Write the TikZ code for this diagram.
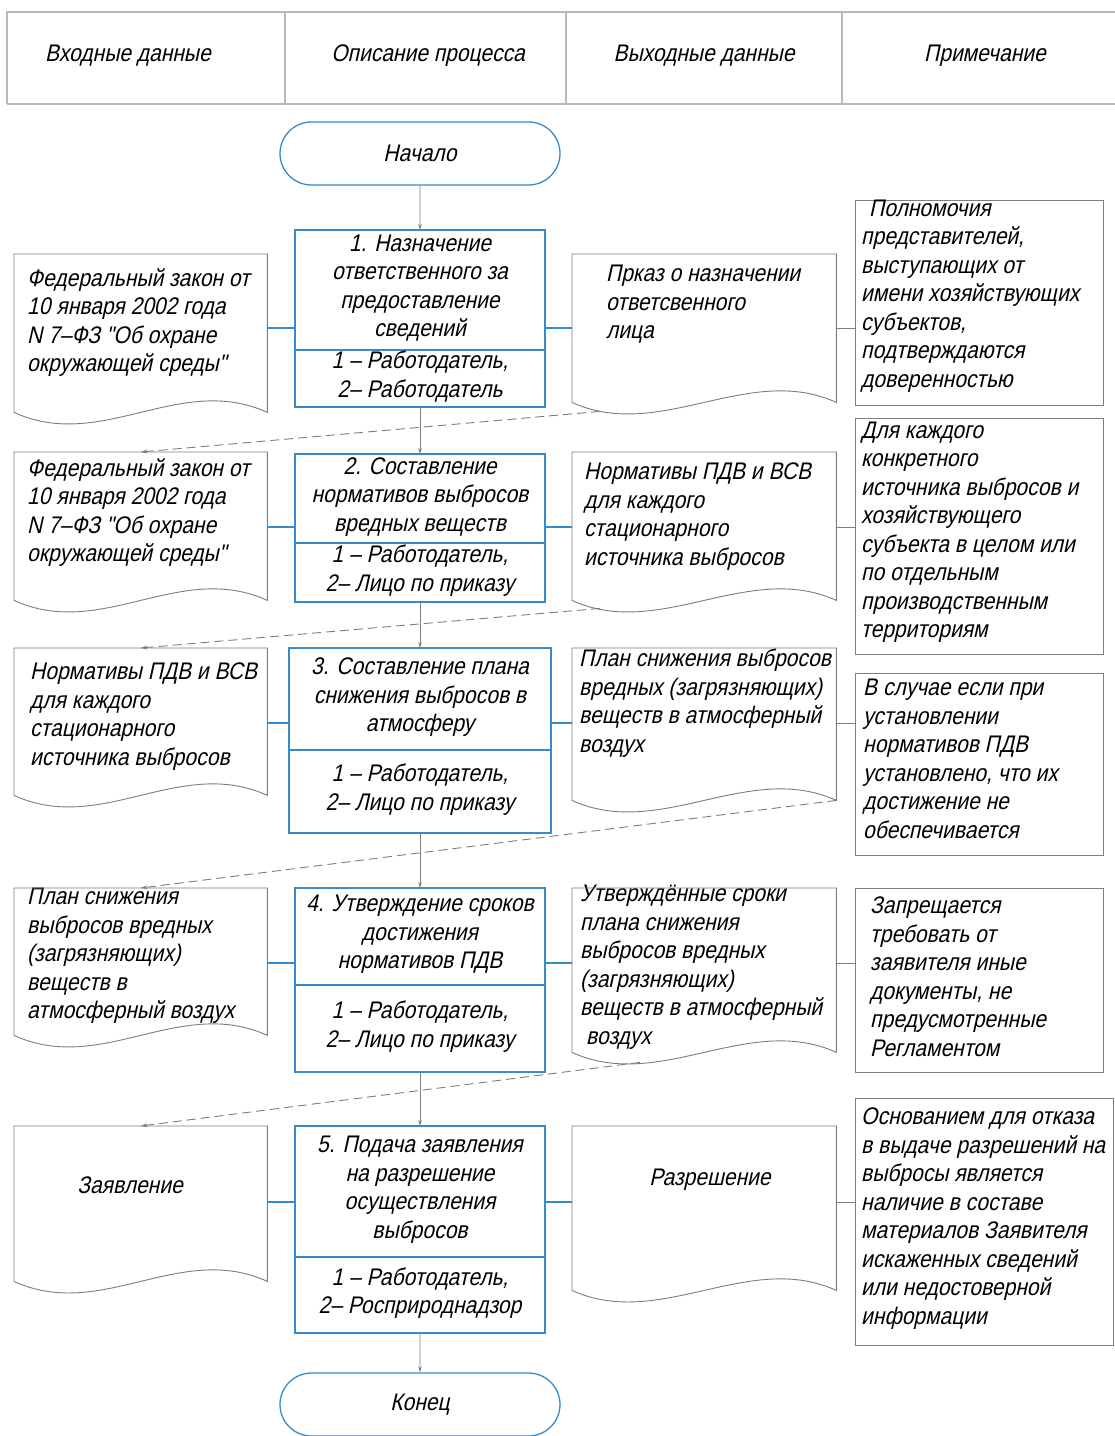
\documentclass[tikz,border=0pt]{standalone}
\usepackage{fontspec}
\setmainfont{Liberation Sans}
\newfontfamily\gost{Liberation Sans}[FakeSlant=0.22,FakeStretch=0.875]
\usetikzlibrary{arrows.meta,shapes.misc,positioning}

\definecolor{procblue}{RGB}{52,140,205}
\definecolor{linegray}{RGB}{125,125,125}

\tikzset{
  every node/.style={font=\gost\fontsize{24}{28.5}\selectfont,inner sep=0pt},
  hdrline/.style={draw=gray!55,line width=1.6pt},
  hdrtext/.style={execute at begin node=\strut},
  proc/.style={rectangle,draw=procblue,line width=1.5pt,outer sep=0pt,
    minimum width=250pt,align=center,
    execute at begin node=\strut,execute at end node=\strut},
  term/.style={rounded rectangle,draw=procblue,line width=1.3pt,
    minimum width=280pt,minimum height=63pt},
  docshape/.style={rectangle,anchor=north west,minimum width=253pt},
  docline/.style={draw=linegray,line width=0.9pt},
  doctext/.style={anchor=north west,align=left,execute at begin node=\strut},
  notebox/.style={rectangle,draw=linegray,line width=0.9pt,anchor=north west,
    minimum width=248pt},
  notetext/.style={anchor=west,align=left,
    execute at begin node=\strut,execute at end node=\strut},
  blueline/.style={draw=procblue,line width=1.5pt},
  grayline/.style={draw=linegray,line width=0.9pt},
  flow/.style={draw=linegray,line width=0.9pt,-{Stealth[length=6pt,width=3.5pt]}},
  dashflow/.style={draw=linegray,line width=0.9pt,dash pattern=on 9pt off 5pt,
    -{Stealth[length=7pt,width=4pt]}}
}

\begin{document}
\begin{tikzpicture}[x=1pt,y=-1pt]
    \useasboundingbox (0,0) rectangle (1115,1436);
    \fill[white] (0,0) rectangle (1115,1436);

    % Шапка таблицы
    \draw[hdrline] (7,104) -- (7,12) -- (1115,12);
    \draw[hdrline] (7,104) -- (1115,104);
    \foreach \x in {285,566,842}
    \draw[hdrline] (\x,12) -- (\x,104);
    \foreach \x/\t [count=\i] in {128/Входные данные,428/Описание процесса,704/Выходные данные,985/Примечание}
    \node[hdrtext] (h\i) at (\x,56) {\t};

    % Начало и конец
    \node[term] (st) at (420,153.5) {Начало};
    \node[term] (en) at (420,1404.5) {Конец};

    % Этапы процесса
    \node[proc,minimum height=120pt] (p1) at (420,290) {1. Назначение\\ответственного за\\предоставление\\сведений};
    \node[proc,minimum height=57pt,below=0pt of p1] (p1b) {1 – Работодатель,\\2– Работодатель};
    \node[proc,minimum height=89pt] (p2) at (420,498.5) {2. Составление\\нормативов выбросов\\вредных веществ};
    \node[proc,minimum height=59pt,below=0pt of p2] (p2b) {1 – Работодатель,\\2– Лицо по приказу};
    \node[proc,minimum width=262pt,minimum height=102pt] (p3) at (420,699) {3. Составление плана\\снижения выбросов в\\атмосферу};
    \node[proc,minimum width=262pt,minimum height=83pt,below=0pt of p3] (p3b) {1 – Работодатель,\\2– Лицо по приказу};
    \node[proc,minimum height=97pt] (p4) at (420,936.5) {4. Утверждение сроков\\достижения\\нормативов ПДВ};
    \node[proc,minimum height=87pt,below=0pt of p4] (p4b) {1 – Работодатель,\\2– Лицо по приказу};
    \node[proc,minimum height=131pt] (p5) at (420,1191.5) {5. Подача заявления\\на разрешение\\осуществления\\выбросов};
    \node[proc,minimum height=76pt,below=0pt of p5] (p5b) {1 – Работодатель,\\2– Росприроднадзор};

    % Входные документы
    \node[docshape,minimum height=158pt] (in1) at (14,254) {};
    \node[docshape,minimum height=148pt] (in2) at (14,452) {};
    \node[docshape,minimum height=147pt] (in3) at (14,648) {};
    \node[docshape,minimum height=147pt] (in4) at (14,888) {};
    \node[docshape,minimum height=155pt] (in5) at (14,1126) {};
    \node[doctext] (in1t) at (27,268) {Федеральный закон от\\10 января 2002 года\\N 7–ФЗ "Об охране\\окружающей среды"};
    \node[doctext] (in2t) at (27,458) {Федеральный закон от\\10 января 2002 года\\N 7–ФЗ "Об охране\\окружающей среды"};
    \node[doctext] (in3t) at (30,663) {Нормативы ПДВ и ВСВ\\для каждого\\стационарного\\источника выбросов};
    \node[doctext] (in4t) at (27,888) {План снижения\\выбросов вредных\\(загрязняющих)\\веществ в\\атмосферный воздух};
    \node[hdrtext] (in5t) at (130,1188) {Заявление};

    % Выходные документы
    \node[docshape,minimum width=264pt,minimum height=148pt] (out1) at (572,254) {};
    \node[docshape,minimum width=264pt,minimum height=148pt] (out2) at (572,452) {};
    \node[docshape,minimum width=264pt,minimum height=152pt] (out3) at (572,648) {};
    \node[docshape,minimum width=264pt,minimum height=164pt] (out4) at (572,888) {};
    \node[docshape,minimum width=264pt,minimum height=164pt] (out5) at (572,1126) {};
    \node[doctext] (out1t) at (606,265) {Прказ о назначении\\ответсвенного\\лица};
    \node[doctext] (out2t) at (584,463) {Нормативы ПДВ и ВСВ\\для каждого\\стационарного\\источника выбросов};
    \node[doctext] (out3t) at (579,649) {План снижения выбросов\\вредных (загрязняющих)\\веществ в атмосферный\\воздух};
    \node[doctext] (out4t) at (580,885) {Утверждённые сроки\\плана снижения\\выбросов вредных\\(загрязняющих)\\веществ в атмосферный\\\hspace*{6pt}воздух};
    \node[hdrtext] (out5t) at (710,1180) {Разрешение};

    % Контур документов с волной снизу
    \foreach \d in {in1,in2,in3,in4,in5,out1,out2,out3,out4,out5}
    \draw[docline] (\d.south west) -- (\d.north west) -- (\d.north east) -- (\d.south east)
      .. controls +(-88,-40) and +(88,40) .. (\d.south west);

    % Примечания
    \node[notebox,minimum height=205pt] (n1) at (855,200) {};
    \node[notebox,minimum height=236pt] (n2) at (855,418) {};
    \node[notebox,minimum height=182pt] (n3) at (855,673) {};
    \node[notebox,minimum height=184pt] (n4) at (855,888) {};
    \node[notebox,minimum width=258pt,minimum height=247pt] (n5) at (855,1098) {};
    \node[notetext] (n1t) at (861,298) {\hspace*{8pt}Полномочия\\представителей,\\выступающих от\\имени хозяйствующих\\субъектов,\\подтверждаются\\доверенностью};
    \node[notetext] (n2t) at (861,534) {Для каждого\\конкретного\\источника выбросов и\\хозяйствующего\\субъекта в целом или\\по отдельным\\производственным\\территориям};
    \node[notetext] (n3t) at (863,763) {В случае если при\\установлении\\нормативов ПДВ\\установлено, что их\\достижение не\\обеспечивается};
    \node[notetext] (n4t) at (870,981) {Запрещается\\требовать от\\заявителя иные\\документы, не\\предусмотренные\\Регламентом};
    \node[notetext] (n5t) at (861,1220.5) {Основанием для отказа\\в выдаче разрешений на\\выбросы является\\наличие в составе\\материалов Заявителя\\искаженных сведений\\или недостоверной\\информации};

    % Горизонтальные связи по строкам
    \foreach \i/\y in {1/328,2/527,3/723,4/963,5/1202} {
      \coordinate (r\i) at (0,\y);
      \draw[blueline] (in\i.east |- r\i) -- (p\i.west |- r\i);
      \draw[blueline] (p\i.east |- r\i) -- (out\i.west |- r\i);
      \draw[grayline] (out\i.east |- r\i) -- (n\i.west |- r\i);
    }

    % Основной поток
    \draw[flow] (st) -- (p1);
    \draw[flow] (p1b) -- (p2);
    \draw[flow] (p2b) -- (p3);
    \draw[flow] (p3b) -- (p4);
    \draw[flow] (p4b) -- (p5);
    \draw[flow] (p5b) -- (en);

    % Передача документов на следующий этап
    \draw[dashflow] ([shift={(28,9)}]out1.south west) -- (in2.north);
    \draw[dashflow] ([shift={(28,8)}]out2.south west) -- (in3.north);
    \draw[dashflow] (out3.south east) -- (in4.north);
    \draw[dashflow] ([shift={(68,10)}]out4.south west) -- (in5.north);
\end{tikzpicture}
\end{document}
